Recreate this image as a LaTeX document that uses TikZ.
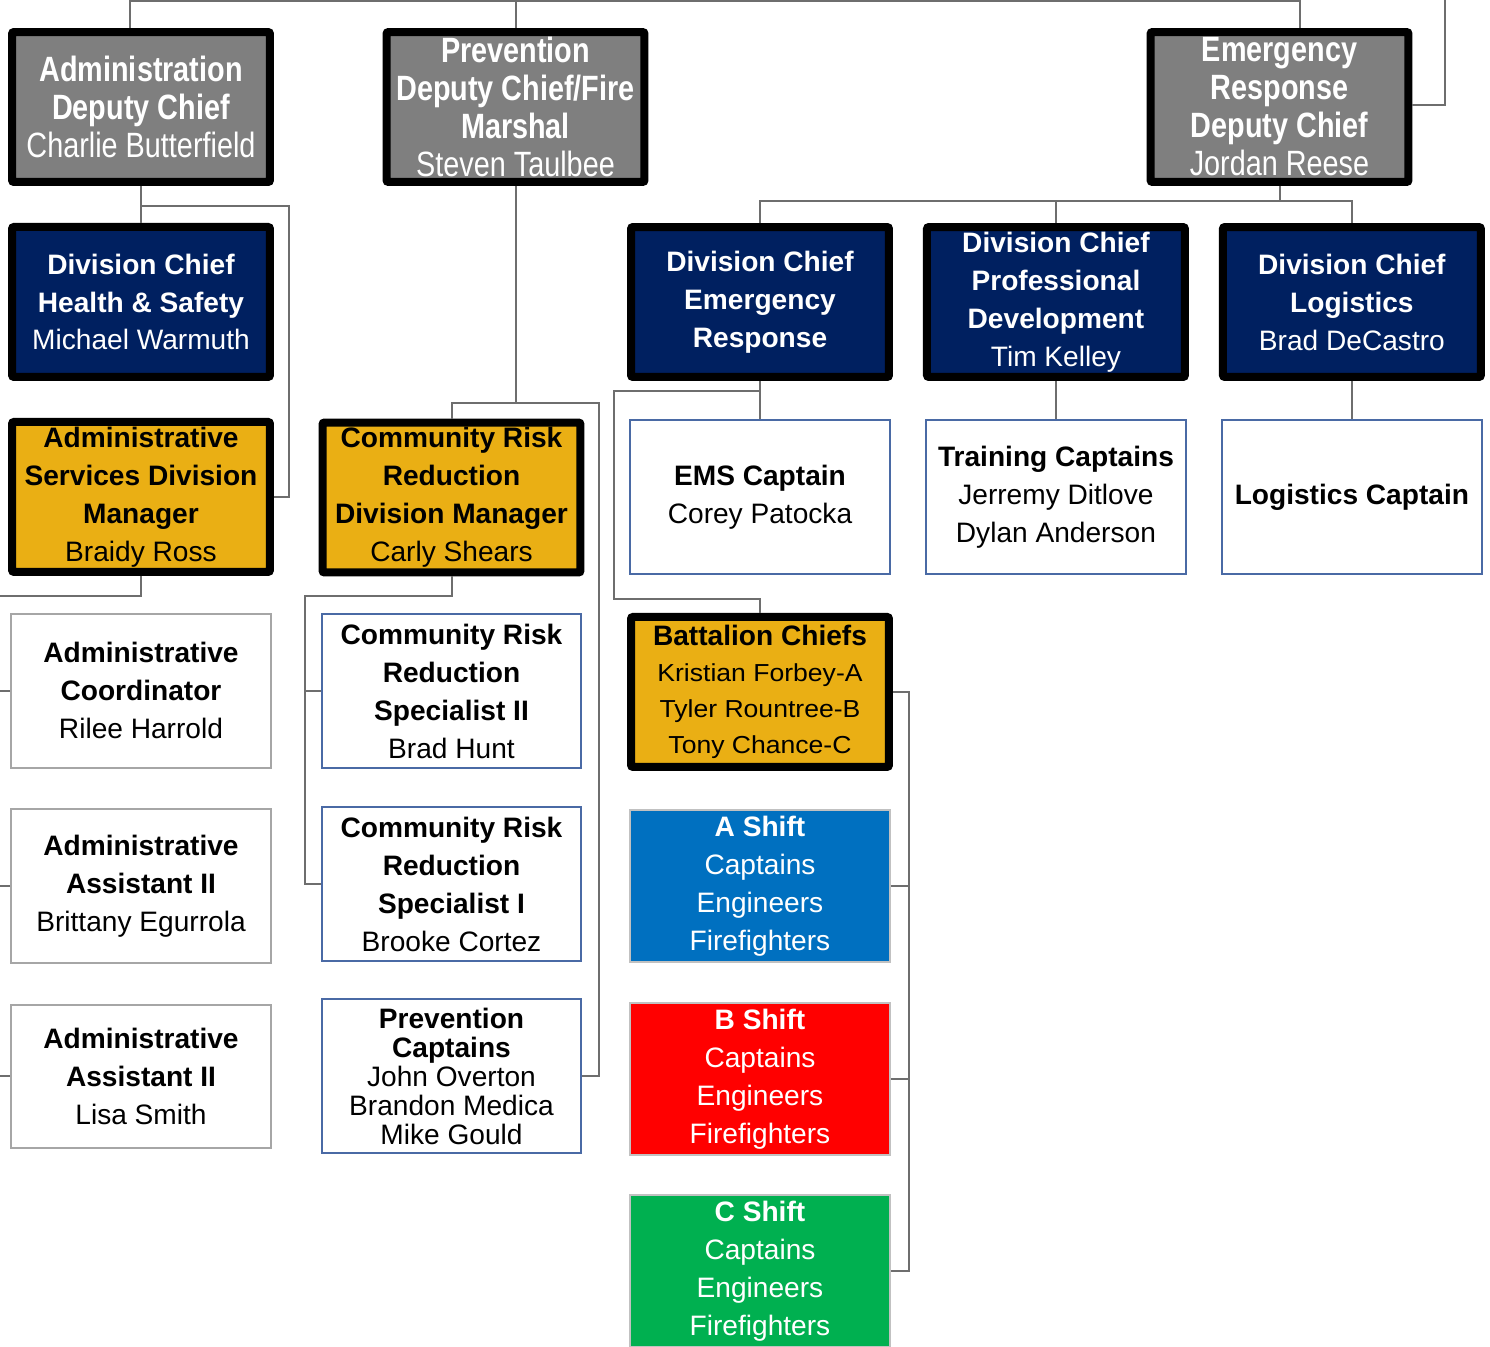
\documentclass[tikz,border=0pt]{standalone}
\usepackage{fontspec}
\setmainfont{Liberation Sans}
\newfontfamily\narrowFont[FakeStretch=0.82]{Liberation Sans}
\newfontfamily\wideFont[FakeStretch=1.08]{Liberation Sans}
\usepackage{tikz}
\usetikzlibrary{calc, positioning}
\definecolor{chiefGray}{HTML}{7F7F7F}
\definecolor{divNavy}{HTML}{002060}
\definecolor{mgrGold}{HTML}{EAAF14}
\definecolor{staffBlue}{HTML}{4A6AA5}
\definecolor{adminGray}{HTML}{A6A6A6}
\definecolor{shiftBlue}{HTML}{0070C0}
\definecolor{shiftRed}{HTML}{FF0000}
\definecolor{shiftGreen}{HTML}{00B050}
\definecolor{linkGray}{HTML}{6E6E6E}
\tikzset{
    heavyBox/.style={rectangle, draw=black, line width=0.16cm, rounded corners=0.04cm, minimum width=5.16cm, minimum height=3.0cm, align=center, inner sep=1pt},
    chief/.style={heavyBox, fill=chiefGray, text=white, font=\narrowFont\fontsize{20}{21.6}\selectfont},
    division/.style={heavyBox, fill=divNavy, text=white, font=\fontsize{16}{21.6}\selectfont},
    manager/.style={heavyBox, fill=mgrGold, text=black, font=\fontsize{16}{21.6}\selectfont},
    lightBox/.style={rectangle, line width=0.04cm, minimum width=5.2cm, minimum height=3.08cm, align=center, inner sep=1pt, fill=white, font=\fontsize{16}{21.6}\selectfont},
    staff/.style={lightBox, draw=staffBlue},
    admin/.style={lightBox, draw=adminGray},
    shiftBox/.style={lightBox, draw=adminGray!70, minimum height=3.04cm, text=white},
    connector/.style={draw=linkGray, line width=0.04cm}
}
\begin{document}
\begin{tikzpicture}[x=0.02cm, y=-0.02cm]
        \useasboundingbox (0,0) rectangle (1490,1346);

        % Administration
        \node[chief] (AdminDC) at (141,107) {\textbf{Administration}\\\textbf{Deputy Chief}\\Charlie Butterfield};
        \node[division, below=0.74cm of AdminDC] (DCHS) {\textbf{Division Chief}\\\textbf{Health \& Safety}\\Michael Warmuth};
        \node[manager, below=0.74cm of DCHS] (ASDM) {\textbf{Administrative}\\\textbf{Services Division}\\\textbf{Manager}\\Braidy Ross};
        \node[admin, below=0.74cm of ASDM] (ACoord) {\textbf{Administrative}\\\textbf{Coordinator}\\Rilee Harrold};
        \node[admin, below=0.78cm of ACoord] (AAsst) {\textbf{Administrative}\\\textbf{Assistant II}\\Brittany Egurrola};
        \node[admin, below=0.8cm of AAsst, minimum height=2.86cm] (ALisa) {\textbf{Administrative}\\\textbf{Assistant II}\\Lisa Smith};

        % Prevention
        \node[chief] (PrevDC) at (515.5,107) {\textbf{Prevention}\\\textbf{Deputy Chief/Fire}\\\textbf{Marshal}\\Steven Taulbee};
        \node[manager] (CRRDM) at (451.5,497.5) {\textbf{Community Risk}\\\textbf{Reduction}\\\textbf{Division Manager}\\Carly Shears};
        \node[staff, below=0.74cm of CRRDM] (CRRS2) {\textbf{Community Risk}\\\textbf{Reduction}\\\textbf{Specialist II}\\Brad Hunt};
        \node[staff, below=0.74cm of CRRS2] (CRRS1) {\textbf{Community Risk}\\\textbf{Reduction}\\\textbf{Specialist I}\\Brooke Cortez};
        \node[staff, below=0.72cm of CRRS1, font=\fontsize{16}{16.5}\selectfont] (PrevCapt) {\textbf{Prevention}\\\textbf{Captains}\\John Overton\\Brandon Medica\\Mike Gould};

        % Emergency Response
        \node[chief] (ERDC) at (1279.5,107) {\textbf{Emergency}\\\textbf{Response}\\\textbf{Deputy Chief}\\Jordan Reese};
        \node[division] (DCER) at (760,302) {\textbf{Division Chief}\\\textbf{Emergency}\\\textbf{Response}};
        \node[division, right=0.6cm of DCER] (DCPD) {\textbf{Division Chief}\\\textbf{Professional}\\\textbf{Development}\\Tim Kelley};
        \node[division, right=0.6cm of DCPD] (DCL) {\textbf{Division Chief}\\\textbf{Logistics}\\Brad DeCastro};
        \node[staff, below=0.76cm of DCER] (EMS) {\textbf{EMS Captain}\\Corey Patocka};
        \node[staff, below=0.76cm of DCPD] (Train) {\textbf{Training Captains}\\Jerremy Ditlove\\Dylan Anderson};
        \node[staff, below=0.76cm of DCL] (LogC) {\textbf{Logistics Captain}};
        \node[manager, below=0.76cm of EMS, font=\fontsize{14}{20.5}\selectfont] (BC) {{\fontsize{16}{20.5}\selectfont\bfseries Battalion Chiefs}\\{\wideFont Kristian Forbey-A}\\{\wideFont Tyler Rountree-B}\\{\wideFont Tony Chance-C}};
        \node[shiftBox, fill=shiftBlue, below=0.76cm of BC] (AShift) {\textbf{A Shift}\\Captains\\Engineers\\Firefighters};
        \node[shiftBox, fill=shiftRed, below=0.78cm of AShift] (BShift) {\textbf{B Shift}\\Captains\\Engineers\\Firefighters};
        \node[shiftBox, fill=shiftGreen, below=0.76cm of BShift] (CShift) {\textbf{C Shift}\\Captains\\Engineers\\Firefighters};

        % Connections top
        \coordinate (topLeft) at (130,1);
        \coordinate (topRight) at (1300,1);
        \coordinate (topFar) at (1445,0);
        \draw[connector] (AdminDC.north -| topLeft) -- (topLeft) -- (topRight) -- (ERDC.north -| topRight);
        \draw[connector] (PrevDC.north) -- (PrevDC.north |- topLeft);
        \draw[connector] ($(ERDC.east)+(0,-2)$) -| (topFar);

        % Connections administration
        \draw[connector] (AdminDC.south) -- (DCHS.north);
        \draw[connector] ($(AdminDC.south)!0.55!(DCHS.north)$) -| ($(ASDM.east)+(15,0)$) -- (ASDM.east);
        \draw[connector] (ASDM.south) -- ++(0,20) -| ($(ALisa.west)+(-15,0)$) coordinate (admBus) -- (ALisa.west);
        \foreach \a in {ACoord, AAsst}
            \draw[connector] (\a.west) -- (\a.west -| admBus);

        % Connections prevention
        \coordinate (prevJoin) at ($(CRRDM.north)+(0,-16)$);
        \draw[connector] (PrevDC.south) |- (prevJoin) -- (CRRDM.north);
        \draw[connector] (prevJoin) -| ($(PrevCapt.east)+(17,0)$) -- (PrevCapt.east);
        \draw[connector] (CRRDM.south) -- ++(0,20) -| ($(CRRS1.west)+(-16,0)$) coordinate (crrBus) -- (CRRS1.west);
        \draw[connector] (CRRS2.west) -- (CRRS2.west -| crrBus);

        % Connections emergency response
        \draw[connector] (ERDC.south) -- ++(0,15) coordinate (erBus);
        \draw[connector] (DCER.north) |- (erBus);
        \draw[connector] (DCL.north) |- (erBus);
        \draw[connector] (DCPD.north) -- (DCPD.north |- erBus);
        \draw[connector] (DCER.south) -- (EMS.north);
        \draw[connector] ($(EMS.north)+(0,-28)$) -| ($(BC.north)+(-146,-14)$) -- ($(BC.north)+(0,-14)$) -- (BC.north);
        \draw[connector] (DCPD.south) -- (Train.north);
        \draw[connector] (DCL.south) -- (LogC.north);
        \draw[connector] (BC.east) -- ++(16,0) coordinate (bcBus) |- (CShift.east);
        \foreach \s in {AShift, BShift}
            \draw[connector] (\s.east) -- (\s.east -| bcBus);
    \end{tikzpicture}
\end{document}
